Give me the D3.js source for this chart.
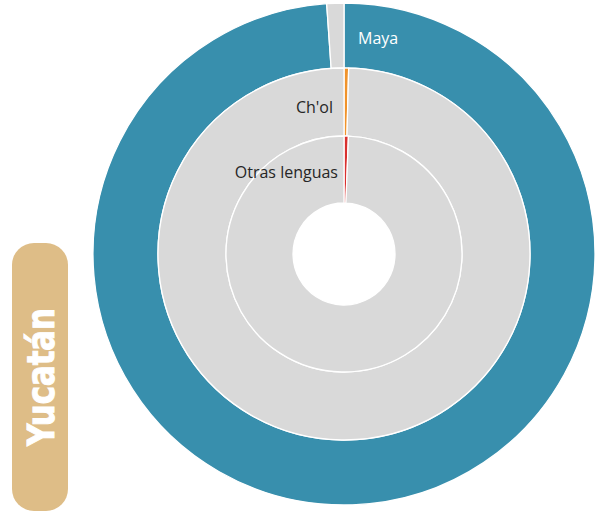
<!DOCTYPE html>
<html>
<head>
<meta charset="utf-8">
<script src="https://cdn.jsdelivr.net/npm/d3@7"></script>
<style>
  html, body { margin: 0; padding: 0; background: #fff; }
  svg { display: block; }
</style>
</head>
<body>
<svg id="chart" width="600" height="512"></svg>
<script>
// ---- data ----
const state = "Yucatán";
const languages = ["Maya", "Ch'ol", "Otras lenguas"];
const shares = [98.9, 0.4, 0.6];      // % of indigenous-language speakers
const restLabel = "Resto";

// ---- styles ----
const sliceColors = ["#388FAD", "#F0932B", "#D9302F"];
const restColor = "#D9D9D9";
const labelColors = ["#ffffff", "#262626", "#262626"];

const cx = 344, cy = 254;
const svg = d3.select("#chart");

// ring radii: outer ring = index 0
const ringEdges = d3.scaleOrdinal().domain([0, 1, 2, 3]).range([251, 186, 118, 51]);
const ringOuter = i => ringEdges(i);
const ringInner = i => ringEdges(i + 1);

const pie = d3.pie().sort(null).value(d => d.value).startAngle(0).endAngle(2 * Math.PI);

const g = svg.append("g").attr("transform", `translate(${cx},${cy})`);

languages.forEach((lang, i) => {
  const data = [
    { name: lang, value: shares[i], color: sliceColors[i] },
    { name: restLabel, value: 100 - shares[i], color: restColor }
  ];
  const arc = d3.arc().innerRadius(ringInner(i)).outerRadius(ringOuter(i));
  g.selectAll(null)
    .data(pie(data))
    .join("path")
    .attr("d", arc)
    .attr("fill", d => d.data.color)
    .attr("stroke", "#ffffff")
    .attr("stroke-width", 1.3);
});

// labels
const labelDy = [8, 11, 8];
const labelDx = [14, -11, -6];
languages.forEach((lang, i) => {
  const mid = (ringOuter(i) + ringInner(i)) / 2;
  g.append("text")
    .attr("x", labelDx[i])
    .attr("y", -mid + labelDy[i])
    .attr("text-anchor", i === 0 ? "start" : "end")
    .attr("font-family", "'Open Sans', sans-serif")
    .attr("font-size", 16)
    .attr("fill", labelColors[i])
    .text(lang);
});

// state badge
svg.append("rect")
  .attr("x", 12).attr("y", 243)
  .attr("width", 56).attr("height", 268)
  .attr("rx", 22).attr("ry", 22)
  .attr("fill", "#DEBD87");

svg.append("text")
  .attr("transform", "translate(54,377) rotate(-90)")
  .attr("text-anchor", "middle")
  .attr("font-family", "'DejaVu Sans Condensed', 'DejaVu Sans', sans-serif")
  .attr("font-weight", "bold")
  .attr("font-size", 38)
  .attr("textLength", 138)
  .attr("lengthAdjust", "spacingAndGlyphs")
  .attr("stroke", "#ffffff")
  .attr("stroke-width", 1)
  .attr("fill", "#ffffff")
  .text(state);
</script>
</body>
</html>
